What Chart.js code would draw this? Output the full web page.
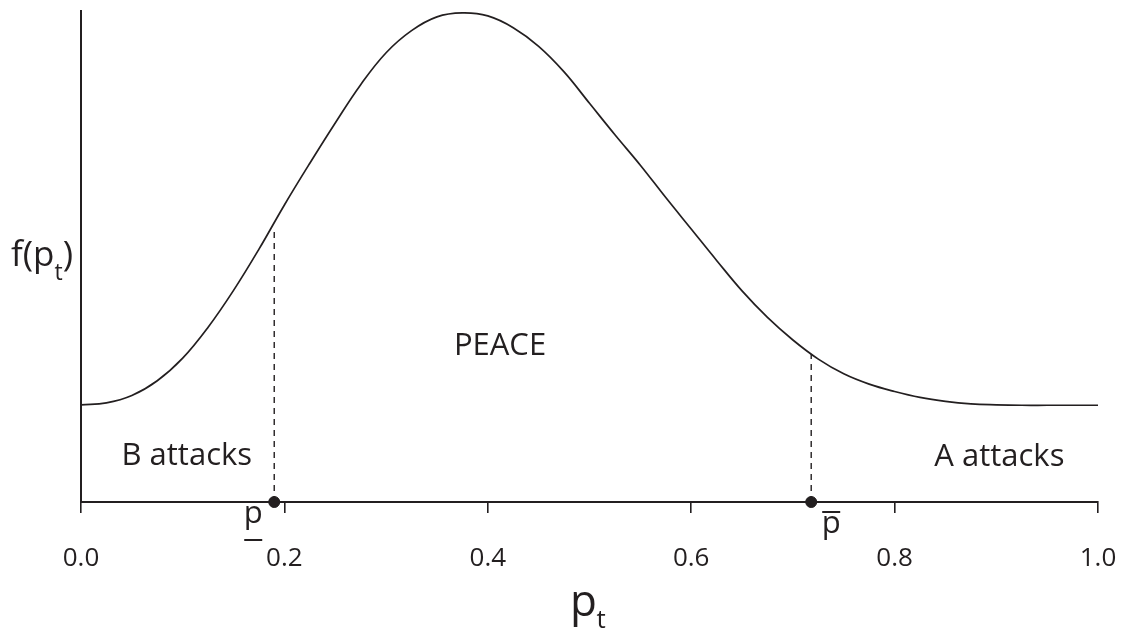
<!DOCTYPE html>
<html>
<head>
<meta charset="utf-8">
<script src="https://cdn.jsdelivr.net/npm/chart.js@4"></script>
<style>
  html, body { margin: 0; padding: 0; background: #fff; }
  #wrap { width: 1126px; height: 633px; }
</style>
</head>
<body>
<div id="wrap"><canvas id="densityChart" width="1126" height="633"></canvas></div>
<script>
// p_t values and the density f(p_t)
const pValues = [0.000, 0.025, 0.050, 0.075, 0.100, 0.125, 0.150, 0.175, 0.200, 0.225,
                 0.250, 0.275, 0.300, 0.325, 0.350, 0.375, 0.400, 0.425, 0.450, 0.475,
                 0.500, 0.525, 0.550, 0.575, 0.600, 0.625, 0.650, 0.675, 0.700, 0.725,
                 0.750, 0.775, 0.800, 0.825, 0.850, 0.875, 0.900, 0.925, 0.950, 0.975, 1.000];
const fValues = [0.198, 0.202, 0.217, 0.247, 0.293, 0.356, 0.431, 0.515, 0.605, 0.690,
                 0.772, 0.850, 0.915, 0.960, 0.988, 0.996, 0.990, 0.966, 0.928, 0.876,
                 0.812, 0.748, 0.686, 0.620, 0.556, 0.492, 0.430, 0.376, 0.330, 0.291,
                 0.261, 0.240, 0.225, 0.213, 0.205, 0.200, 0.198, 0.197, 0.197, 0.197, 0.197];

// thresholds p_lower and p_upper, with the curve height at each
const thresholdP = [0.190, 0.718];
const thresholdF = [0.558, 0.301];

// x tick values
const xTicks = [0.0, 0.2, 0.4, 0.6, 0.8, 1.0];

// region labels and where they sit (data coords)
const regionLabels = ['B attacks', 'PEACE', 'A attacks'];
const regionP = [0.104, 0.412, 0.903];
const regionF = [0.094, 0.318, 0.092];

const INK = '#231f20';
const FONT = '"Open Sans", "Noto Sans", sans-serif';

const curve = pValues.map((p, i) => ({ x: p, y: fValues[i] }));

const dashedSets = thresholdP.map((p, i) => ({
  type: 'line',
  data: [{ x: p, y: 0 }, { x: p, y: thresholdF[i] }],
  borderColor: INK,
  borderWidth: 1.4,
  borderDash: [6, 5],
  pointRadius: 0,
  tension: 0
}));

// texts: region names, threshold symbols, axis titles with subscripts
const textPlugin = {
  id: 'texts',
  afterDraw(chart) {
    const { ctx, scales: { x, y }, chartArea } = chart;
    ctx.save();
    ctx.fillStyle = INK;
    ctx.strokeStyle = INK;
    ctx.textBaseline = 'middle';
    ctx.textAlign = 'center';

    ctx.font = '31px ' + FONT;
    regionLabels.forEach((t, i) => {
      ctx.fillText(t, x.getPixelForValue(regionP[i]), y.getPixelForValue(regionF[i]));
    });

    // p with underline (lower threshold)
    const axisY = y.getPixelForValue(0);
    ctx.font = '31px ' + FONT;
    const lx = x.getPixelForValue(thresholdP[0]) - 21;
    ctx.fillText('p', lx, axisY + 12);
    ctx.lineWidth = 2;
    ctx.beginPath();
    ctx.moveTo(lx - 9, axisY + 38);
    ctx.lineTo(lx + 9, axisY + 38);
    ctx.stroke();

    // p with overline (upper threshold)
    const ux = x.getPixelForValue(thresholdP[1]) + 20;
    ctx.fillText('p', ux, axisY + 22);
    ctx.beginPath();
    ctx.moveTo(ux - 9, axisY + 10);
    ctx.lineTo(ux + 9, axisY + 10);
    ctx.stroke();

    // x title p_t
    const cx = (chartArea.left + chartArea.right) / 2;
    ctx.font = '44px ' + FONT;
    ctx.textAlign = 'center';
    ctx.fillText('p', cx - 6, 603);
    ctx.font = '26px ' + FONT;
    ctx.textAlign = 'left';
    ctx.fillText('t', cx + 7, 621);

    // y title f(p_t)
    ctx.font = '35px ' + FONT;
    ctx.textAlign = 'left';
    ctx.fillText('f(p', 11, 256);
    const w = ctx.measureText('f(p').width;
    ctx.font = '23px ' + FONT;
    ctx.fillText('t', 11 + w, 273);
    const wt = ctx.measureText('t').width;
    ctx.font = '35px ' + FONT;
    ctx.fillText(')', 11 + w + wt, 256);
    ctx.restore();
  }
};

new Chart(document.getElementById('densityChart'), {
  type: 'line',
  data: {
    datasets: [
      {
        data: curve,
        borderColor: INK,
        borderWidth: 1.7,
        pointRadius: 0,
        tension: 0.4
      },
      ...dashedSets,
      {
        type: 'scatter',
        data: thresholdP.map(p => ({ x: p, y: 0 })),
        backgroundColor: INK,
        borderColor: INK,
        pointRadius: 5.5,
        clip: false
      }
    ]
  },
  options: {
    responsive: false,
    animation: false,
    layout: { padding: { left: 81, right: 28, top: 11, bottom: 0 } },
    plugins: {
      legend: { display: false },
      tooltip: { enabled: false }
    },
    scales: {
      x: {
        type: 'linear',
        min: 0,
        max: 1,
        afterFit(scale) {
          scale.height = 131;
          scale.paddingLeft = 0;
          scale.paddingRight = 0;
        },
        afterBuildTicks(scale) { scale.ticks = xTicks.map(v => ({ value: v })); },
        border: { display: true, color: INK, width: 2 },
        grid: { drawOnChartArea: false, drawTicks: true, tickLength: 11, color: INK, lineWidth: 1.6 },
        ticks: {
          color: INK,
          font: { family: FONT, size: 26 },
          padding: 30,
          maxRotation: 0,
          callback: v => Number(v).toFixed(1)
        }
      },
      y: {
        min: 0,
        max: 1,
        afterFit(scale) { scale.width = 0; },
        border: { display: true, color: INK, width: 2 },
        grid: { display: false },
        ticks: { display: false }
      }
    }
  },
  plugins: [textPlugin]
});
</script>
</body>
</html>
